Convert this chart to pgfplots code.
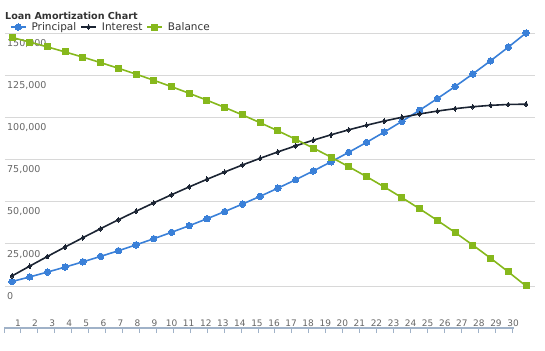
\documentclass[border=0pt]{standalone}
\usepackage{pgfplots}
\pgfplotsset{compat=1.18}
\usepackage{pgfplotstable}
\usepackage{fontspec}
\setmainfont{DejaVu Sans}
\definecolor{cPrin}{RGB}{58,128,216}
\definecolor{cInt}{RGB}{27,36,51}
\definecolor{cBal}{RGB}{134,184,28}
\definecolor{cGrid}{RGB}{216,216,216}
\definecolor{cAxis}{RGB}{160,178,200}
\definecolor{cLab}{RGB}{102,102,102}
\definecolor{cTitle}{RGB}{51,51,51}

\pgfplotstableread{
year principal interest balance
1 2641 5952 147359
2 5391 11796 144609
3 8252 17528 141748
4 11230 23144 138770
5 14329 28638 135671
6 17554 34007 132446
7 20911 39243 129089
8 24404 44344 125596
9 28040 49301 121960
10 31824 54110 118176
11 35762 58766 114238
12 39861 63260 110139
13 44126 67589 105874
14 48566 71742 101434
15 53186 75716 96814
16 57994 79501 92006
17 62999 83089 87001
18 68207 86475 81793
19 73627 89648 76373
20 79269 92600 70731
21 85140 95322 64860
22 91250 97806 58750
23 97609 100040 52391
24 104227 102016 45773
25 111115 103721 38885
26 118284 105145 31716
27 125745 106278 24255
28 133509 107107 16491
29 141590 107620 8410
30 150000 107803 0
}\loandata

\begin{document}
\begin{tikzpicture}
\path[use as bounding box] (0,0) rectangle (545pt,350pt);

\node[anchor=west, inner sep=0pt, text=cTitle, font=\fontsize{9.6}{11}\selectfont\bfseries] at (5pt,334pt) {Loan Amortization Chart};

% x axis: line and tick marks
\begin{axis}[
  scale only axis,
  clip=false,
  at={(4pt,22pt)}, anchor=south west,
  width=509.7pt, height=10pt,
  xmin=0, xmax=30.1, ymin=0, ymax=1,
  axis line style={draw=none},
  ytick=\empty,
  xtick pos=bottom,
  xtick={0,1,...,30},
  xticklabels={},
  major tick length=5pt,
  tick align=outside,
  xtick style={draw=cAxis, line width=1pt},
]
\addplot[draw=none, mark=none, forget plot] coordinates {(0,0) (30,0)};
\draw[cAxis, line width=1.1pt] (axis cs:0,0) -- (axis cs:30.1,0);
\end{axis}

% x axis: labels
\begin{axis}[
  scale only axis,
  at={(4pt,22pt)}, anchor=south west,
  width=509.7pt, height=10pt,
  xmin=0, xmax=30.1, ymin=0, ymax=1,
  axis line style={draw=none},
  ytick=\empty,
  xtick pos=bottom,
  major tick length=0pt,
  xtick={0.827,1.835,2.843,3.851,4.859,5.868,6.876,7.884,8.892,9.900,10.908,11.916,12.924,13.932,14.940,15.949,16.957,17.965,18.973,19.981,20.989,21.997,23.005,24.013,25.021,26.030,27.038,28.046,29.054,30.062},
  xticklabels={1,2,3,4,5,6,7,8,9,10,11,12,13,14,15,16,17,18,19,20,21,22,23,24,25,26,27,28,29,30},
  xticklabel style={anchor=south, inner sep=1.5pt, text=cLab, font=\fontsize{9}{10}\selectfont},
  /pgf/number format/assume math mode=true,
]
\addplot[draw=none, mark=none, forget plot] coordinates {(0,0) (30,0)};
\end{axis}

\begin{axis}[
  scale only axis,
  at={(5pt,64pt)}, anchor=south west,
  width=530pt, height=253pt,
  xmin=0.605, xmax=30.508,
  ymin=0, ymax=150000,
  axis line style={draw=none},
  xtick=\empty,
  ytick={0,25000,50000,75000,100000,125000,150000},
  ymajorgrids,
  major grid style={draw=cGrid, line width=0.8pt},
  major tick length=0pt,
  scaled y ticks=false,
  yticklabel style={anchor=north west, inner sep=0pt, xshift=2pt, yshift=-6pt, text=cLab, font=\fontsize{9.5}{10}\selectfont},
  /pgf/number format/.cd, fixed, 1000 sep={,}, assume math mode=true,
  /pgfplots/.cd,
  legend columns=3,
  legend style={at={(axis description cs:0.0094,1.0237)}, anchor=west, draw=none, fill=none, inner sep=0pt, outer sep=0pt,
    nodes={inner sep=0pt, text=cTitle, font=\fontsize{10.5}{12}\selectfont},
    /tikz/every odd column/.append style={column sep=5pt},
    /tikz/every even column/.append style={column sep=4pt}},
  legend image code/.code={\draw[mark repeat=2, mark phase=2, #1] plot coordinates {(0pt,0pt) (7.5pt,0pt) (15pt,0pt)};},
]
\addplot[color=cPrin, line width=1.6pt, mark=*, mark size=3.2pt, mark options={solid, fill=cPrin, draw=cPrin, line width=0pt}] table[x=year, y=principal] {\loandata};
\addlegendentry{Principal}
\addplot[color=cInt, line width=1.6pt, mark=diamond*, mark size=2.4pt, mark options={solid, fill=cInt, draw=cInt, line width=0pt}] table[x=year, y=interest] {\loandata};
\addlegendentry{Interest}
\addplot[color=cBal, line width=1.6pt, mark=square*, mark size=3pt, mark options={solid, fill=cBal, draw=cBal, line width=0pt}] table[x=year, y=balance] {\loandata};
\addlegendentry{Balance}
\end{axis}
\end{tikzpicture}
\end{document}
